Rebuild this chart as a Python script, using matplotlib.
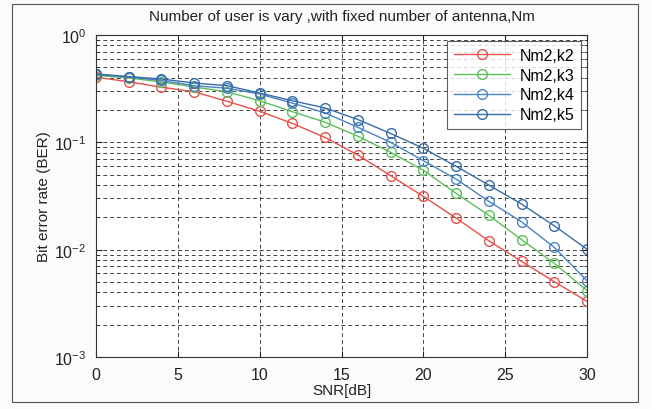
import matplotlib
matplotlib.use("Agg")
import matplotlib.pyplot as plt
from matplotlib.patches import Rectangle
from matplotlib.ticker import LogLocator, NullFormatter, FixedLocator

plt.rcParams['font.family'] = ['Liberation Sans', 'DejaVu Sans']

snr = [0, 2, 4, 6, 8, 10, 12, 14, 16, 18, 20, 22, 24, 26, 28, 30]
ber_k2 = [0.404, 0.367, 0.326, 0.296, 0.241, 0.195, 0.150, 0.111, 0.0762, 0.0489,
          0.0314, 0.0197, 0.0121, 0.00779, 0.00503, 0.0033]
ber_k3 = [0.420, 0.398, 0.365, 0.328, 0.296, 0.244, 0.193, 0.154, 0.114, 0.0807,
          0.0549, 0.0335, 0.0209, 0.0124, 0.00746, 0.00415]
ber_k4 = [0.430, 0.406, 0.377, 0.337, 0.319, 0.282, 0.232, 0.188, 0.138, 0.100,
          0.0675, 0.0455, 0.0282, 0.0182, 0.0105, 0.00514]
ber_k5 = [0.433, 0.410, 0.389, 0.357, 0.337, 0.288, 0.244, 0.209, 0.163, 0.121,
          0.0880, 0.0598, 0.0400, 0.0266, 0.0167, 0.0101]
labels = ["Nm2,k2", "Nm2,k3", "Nm2,k4", "Nm2,k5"]
colors = ["#e8504c", "#5cbf5a", "#4a84c4", "#386ca8"]

fig = plt.figure(figsize=(6.52, 4.10), dpi=100, facecolor="#fbfbfb")
fig.patches.append(Rectangle((12 / 652, 1 - 403 / 410), 626 / 652, 398 / 410,
                             transform=fig.transFigure, fill=False,
                             edgecolor="#555555", linewidth=0.8))
ax = fig.add_axes([96 / 652, 1 - 358 / 410, 491 / 652, 322 / 410])
ax.set_facecolor("white")

for y, lab, c in zip([ber_k2, ber_k3, ber_k4, ber_k5], labels, colors):
    ax.semilogy(snr, y, '-o', color=c, label=lab, linewidth=1.0,
                markersize=7, markerfacecolor='none', markeredgewidth=1.0)

ax.set_xlim(0, 30)
ax.set_ylim(1e-3, 1)
ax.set_xticks([0, 5, 10, 15, 20, 25, 30])
ax.yaxis.set_major_locator(FixedLocator([1e-3, 1e-2, 1e-1, 1]))
ax.yaxis.set_minor_locator(LogLocator(base=10, subs=range(2, 10)))
ax.yaxis.set_minor_formatter(NullFormatter())
ax.grid(True, which='major', linestyle=(0, (4, 3)), color='#444444', linewidth=0.7)
ax.grid(True, which='minor', axis='y', linestyle=(0, (4, 3)), color='#444444', linewidth=0.7)
ax.tick_params(which='both', direction='in', top=True, right=True, labelsize=11.5,
               colors='#222222')
ax.tick_params(which='major', length=4, pad=7)
ax.tick_params(which='minor', length=2)
for s in ax.spines.values():
    s.set_color('#333333')
    s.set_linewidth(0.8)

ax.set_title("Number of user is vary ,with fixed number of antenna,Nm", fontsize=11,
             pad=11, color='#222222')
ax.set_xlabel("SNR[dB]", fontsize=11, color='#222222', labelpad=1)
ax.set_ylabel("Bit error rate (BER)", fontsize=11, color='#222222', labelpad=2)

leg = ax.legend(loc='upper right', fontsize=11.5, handlelength=3.5, frameon=True,
                fancybox=False, edgecolor='#333333', borderaxespad=0.4,
                labelspacing=0.3, handletextpad=0.6)
leg.get_frame().set_linewidth(0.8)

fig.savefig("out.png", dpi=100, facecolor=fig.get_facecolor())
